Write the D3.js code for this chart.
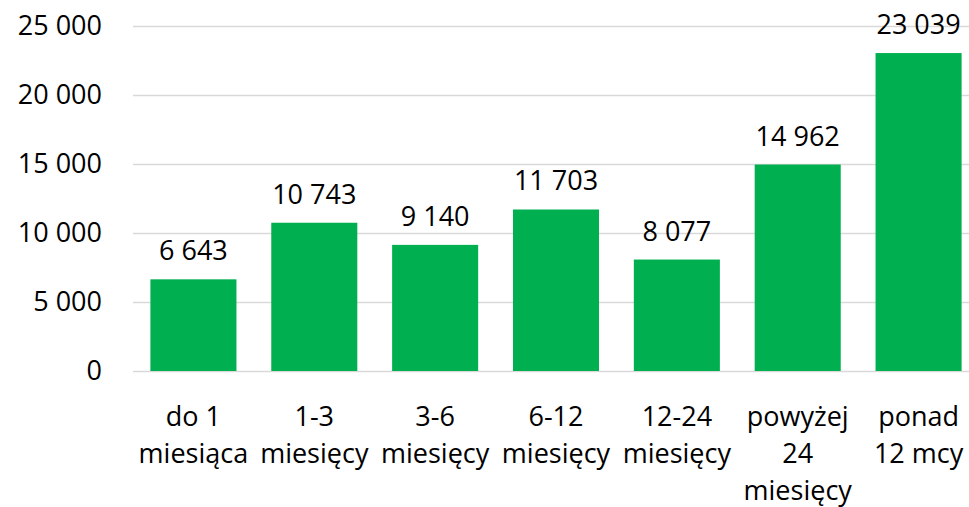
<!DOCTYPE html>
<html>
<head>
<meta charset="utf-8">
<script src="https://cdn.jsdelivr.net/npm/d3@7"></script>
<style>
  body { margin: 0; background: #fff; }
  text { font-family: "Open Sans", "Noto Sans", sans-serif; fill: #000; }
</style>
</head>
<body>
<div id="chart"></div>
<script>
var categories = [
    ["do 1", "miesiąca"],
    ["1-3", "miesięcy"],
    ["3-6", "miesięcy"],
    ["6-12", "miesięcy"],
    ["12-24", "miesięcy"],
    ["powyżej", "24", "miesięcy"],
    ["ponad", "12 mcy"]
];
var values = [6643, 10743, 9140, 11703, 8077, 14962, 23039];
var yTicks = [0, 5000, 10000, 15000, 20000, 25000];

var width = 969,
    height = 507;

var margin = { left: 133, right: -10, top: 26, bottom: 136 };

var fontSize = "27px";

var fmt = function (v) {
    return d3.format(",")(v).replace(/,/g, " ");
};

var svg = d3.select("#chart")
    .append("svg")
    .attr("width", width)
    .attr("height", height);

var x = d3.scaleBand()
    .domain(d3.range(values.length))
    .range([margin.left, width - margin.right])
    .paddingInner(0.288)
    .paddingOuter(0.144);

var y = d3.scaleLinear()
    .domain([0, 25000])
    .range([height - margin.bottom, margin.top]);

// gridlines
svg.append("g")
    .selectAll("line")
    .data(yTicks)
    .enter()
    .append("line")
    .attr("x1", margin.left)
    .attr("x2", width - margin.right)
    .attr("y1", function (d) { return Math.round(y(d)) + 0.5; })
    .attr("y2", function (d) { return Math.round(y(d)) + 0.5; })
    .attr("stroke", "#d9d9d9")
    .attr("stroke-width", 1.5);

// y axis labels
var yAxis = d3.axisLeft(y)
    .tickValues(yTicks)
    .tickFormat(fmt)
    .tickSize(0)
    .tickPadding(31);

svg.append("g")
    .attr("transform", "translate(" + margin.left + ",0)")
    .call(yAxis)
    .call(function (g) { g.select(".domain").remove(); })
    .selectAll("text")
    .attr("font-size", fontSize)
    .attr("font-family", "'Open Sans', sans-serif")
    .attr("fill", "#000");

// bars
svg.append("g")
    .selectAll("rect")
    .data(values)
    .enter()
    .append("rect")
    .attr("x", function (d, i) { return x(i); })
    .attr("y", function (d) { return y(d); })
    .attr("width", x.bandwidth())
    .attr("height", function (d) { return y(0) - y(d); })
    .attr("fill", "#00b050");

// value labels
svg.append("g")
    .selectAll("text")
    .data(values)
    .enter()
    .append("text")
    .attr("x", function (d, i) { return x(i) + x.bandwidth() / 2; })
    .attr("y", function (d) { return y(d) - 19; })
    .attr("text-anchor", "middle")
    .attr("font-size", fontSize)
    .text(fmt);

// category labels
var cat = svg.append("g")
    .selectAll("text")
    .data(categories)
    .enter()
    .append("text")
    .attr("text-anchor", "middle")
    .attr("font-size", fontSize);

cat.selectAll("tspan")
    .data(function (d, i) {
        return d.map(function (line, j) { return { line: line, i: i, j: j }; });
    })
    .enter()
    .append("tspan")
    .attr("x", function (d) { return x(d.i) + x.bandwidth() / 2; })
    .attr("y", function (d) { return y(0) + 55 + d.j * 37; })
    .text(function (d) { return d.line; });
</script>
</body>
</html>
